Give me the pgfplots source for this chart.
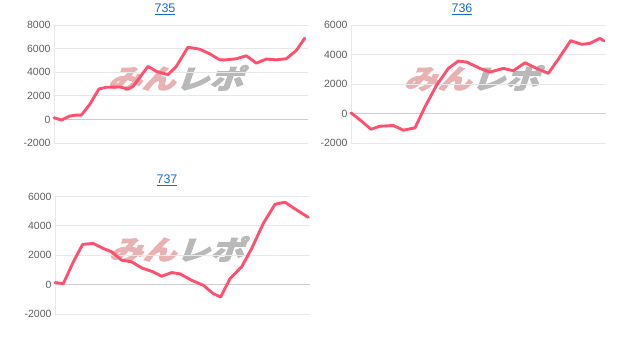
\documentclass[border=0pt]{standalone}
\usepackage{pgfplots}
\pgfplotsset{compat=1.18}
\usepackage{fontspec}
\setmainfont{Liberation Sans}
\newfontfamily\jp{Noto Sans CJK JP}[FakeBold=3]
\definecolor{lineC}{RGB}{255,80,112}
\definecolor{gridC}{RGB}{232,232,232}
\definecolor{zeroC}{RGB}{205,205,205}
\definecolor{tickC}{RGB}{95,95,95}
\definecolor{titleC}{RGB}{20,110,205}
\definecolor{wmPink}{RGB}{232,178,178}
\definecolor{wmGray}{RGB}{185,185,185}
\pgfplotsset{
  panel/.style={
    anchor=south west, scale only axis,
    xtick=\empty, axis line style={draw=none},
    ymajorgrids, grid style={gridC, line width=0.8pt},
    major tick length=0pt,
    tick label style={font=\fontsize{10.5}{12}\selectfont, text=tickC},
    /pgf/number format/1000 sep={},
    /pgf/number format/assume math mode=true,
    extra y ticks={0}, extra y tick labels={},
    extra y tick style={grid style={zeroC, line width=1pt}},
    clip=false,
  },
  myline/.style={lineC, line width=2.9pt, line join=round, line cap=round, no marks},
}
\newcommand{\wm}[3]{%
  \node[anchor=center, inner sep=0, xslant=0.35, transform shape] at (#1pt,#2pt) {\scalebox{#3}[1]{\jp\bfseries\fontsize{27}{28}\selectfont\textcolor{wmPink}{みん}\textcolor{wmGray}{レポ}}};}
\begin{document}
\begin{tikzpicture}
\path[use as bounding box] (0pt,0pt) rectangle (619pt,342pt);
% watermarks
\wm{179}{264}{1.25}
\wm{475}{264}{1.25}
\wm{180}{93}{1.25}
% titles
\node[font=\fontsize{12.5}{14}\selectfont, text=titleC] at (165pt,333pt) {\underline{735}};
\node[font=\fontsize{12.5}{14}\selectfont, text=titleC] at (462pt,333pt) {\underline{736}};
\node[font=\fontsize{12.5}{14}\selectfont, text=titleC] at (167pt,162pt) {\underline{737}};
% panel 735
\begin{axis}[panel, at={(54pt,199pt)}, width=254pt, height=118pt,
  xmin=163, xmax=925, ymin=-2000, ymax=8000, ytick={-2000,0,2000,4000,6000,8000}]
\draw[gridC, line width=0.8pt] (axis cs:163,-2000) -- (axis cs:163,8000);
\addplot[myline] coordinates {
(163,140)(185,-56)(210,280)(230,365)(245,365)(270,1260)(298,2580)(320,2720)(360,2750)
(385,2580)(400,2800)(445,4490)(470,4070)(505,3790)(530,4490)(565,6120)(600,5950)
(630,5560)(660,5050)(680,5050)(710,5140)(740,5390)(770,4770)(800,5110)(830,5050)
(860,5140)(890,5840)(915,6880)};
\end{axis}
% panel 736
\begin{axis}[panel, at={(351pt,199pt)}, width=255pt, height=118pt,
  xmin=153, xmax=918, ymin=-2000, ymax=6000, ytick={-2000,0,2000,4000,6000}]
\draw[gridC, line width=0.8pt] (axis cs:153,-2000) -- (axis cs:153,6000);
\addplot[myline] coordinates {
(153,45)(175,-340)(213,-1065)(240,-860)(280,-815)(310,-1130)(345,-975)(375,450)
(410,1925)(445,3057)(475,3555)(500,3490)(540,3057)(570,2810)(610,3057)(640,2900)
(675,3440)(710,3057)(745,2720)(780,3850)(812,4940)(845,4690)(870,4755)(900,5100)(912,4915)};
\end{axis}
% panel 737
\begin{axis}[panel, at={(55pt,28pt)}, width=255pt, height=117.5pt,
  xmin=165, xmax=930, ymin=-2000, ymax=6000, ytick={-2000,0,2000,4000,6000}]
\draw[gridC, line width=0.8pt] (axis cs:165,-2000) -- (axis cs:165,6000);
\addplot[myline] coordinates {
(165,137)(190,68)(220,1550)(248,2740)(280,2805)(310,2460)(335,2235)(365,1665)
(395,1550)(425,1140)(460,865)(485,570)(515,820)(540,730)(575,296)(610,-46)
(640,-615)(662,-845)(690,410)(725,1210)(755,2460)(790,4170)(825,5470)(855,5610)
(890,5085)(925,4580)};
\end{axis}
\end{tikzpicture}
\end{document}
